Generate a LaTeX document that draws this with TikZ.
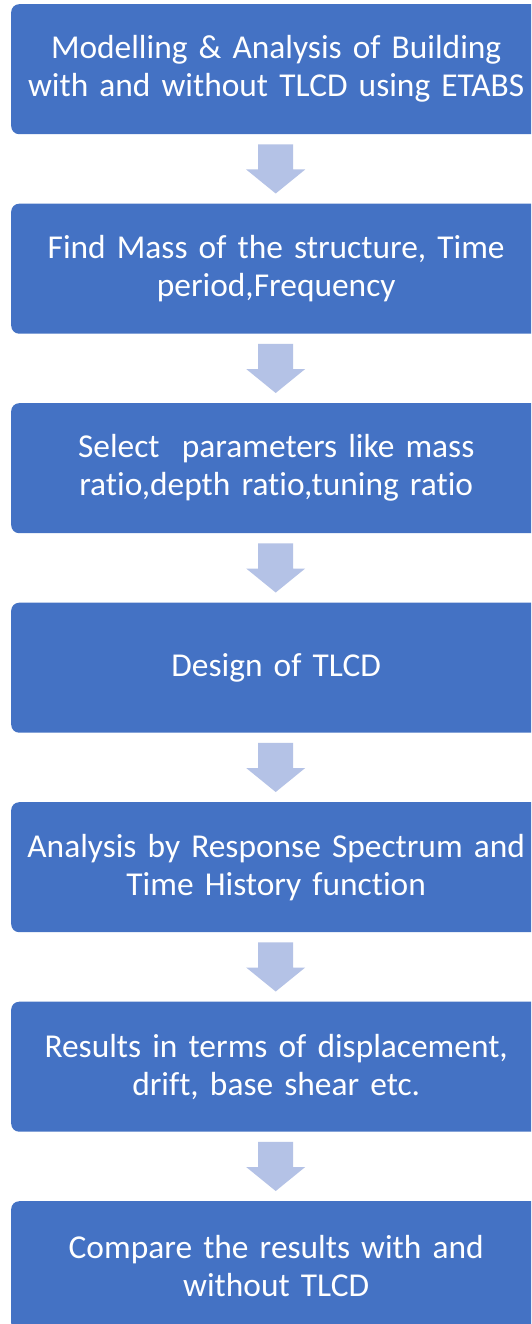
\documentclass[tikz,border=0pt]{standalone}
\usepackage{fontspec}
\setmainfont{Carlito}[Ligatures=NoCommon]
\usetikzlibrary{calc}
\definecolor{boxblue}{HTML}{4472C4}
\definecolor{arrowblue}{HTML}{B4C2E6}
\begin{document}
\begin{tikzpicture}[x=1pt,y=-1pt,
  stepbox/.style={fill=boxblue, draw=none, rounded corners=8pt, minimum width=530pt,
    minimum height=130pt, text width=528pt, align=center, text=white,
    font=\fontsize{33.4}{38}\selectfont, inner sep=0pt, anchor=north west},
  downarrow/.style={fill=arrowblue, draw=none}]
\useasboundingbox (0,0) rectangle (531,1324);
\clip (0,0) rectangle (531,1324);
\fill[white] (0,0) rectangle (531,1324);
\node[stepbox] (b1) at (11,4) {Modelling \& Analysis of Building\\with and without TLCD using ETABS};
\node[stepbox] (b2) at (11,203.5) {Find Mass of the structure, Time\\period,Frequency};
\node[stepbox] (b3) at (11,403) {Select\ \ parameters like mass\\ratio,depth ratio,tuning ratio};
\node[stepbox] (b4) at (11,602.5) {Design of TLCD};
\node[stepbox] (b5) at (11,802) {Analysis by Response Spectrum and\\Time History function};
\node[stepbox] (b6) at (11,1001.5) {Results in terms of displacement,\\drift, base shear etc.};
\node[stepbox] (b7) at (11,1201) {Compare the results with and\\without TLCD};
% block arrows between consecutive steps
\foreach \a/\b in {b1/b2,b2/b3,b3/b4,b4/b5,b5/b6,b6/b7}{
  \path (\a.south) ++(-0.5,10) coordinate (top)
        (\b.north) ++(-0.5,-10) coordinate (tip);
  \fill[downarrow] ($(top)+(-17.5,0)$) -- ++(35,0) -- ($(tip)+(17.5,-24)$) -- ++(12,0)
     -- (tip) -- ($(tip)+(-29.5,-24)$) -- ++(12,0) -- cycle;
}
\end{tikzpicture}
\end{document}
